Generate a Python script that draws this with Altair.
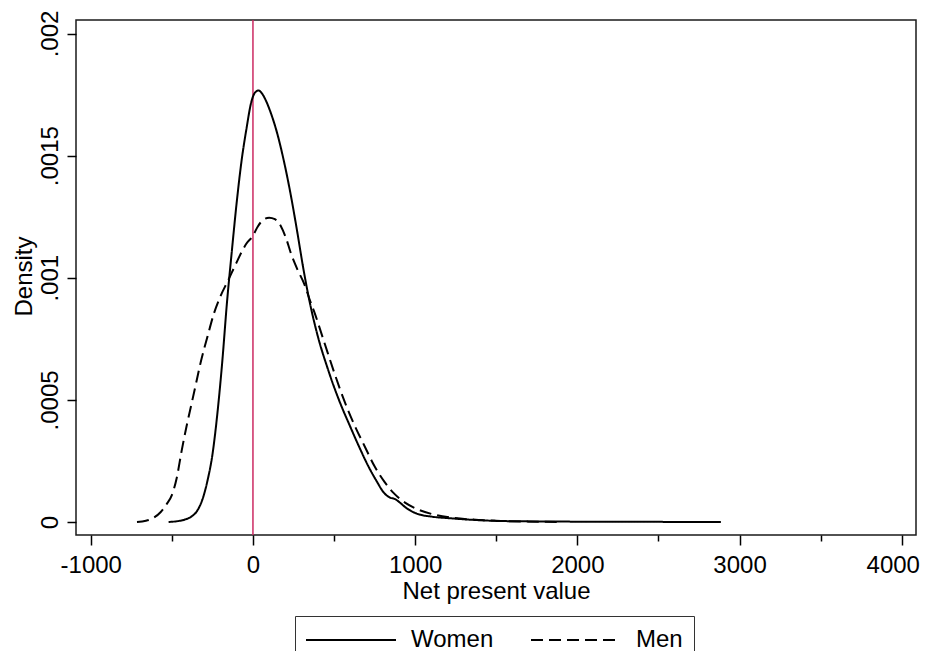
import altair as alt
import pandas as pd

# ---- data (kernel density curves) ----
women_x = [-520, -470, -420, -380, -340, -310, -280, -250, -220, -190, -160, -130, -100, -70, -40, -10,
           15, 35, 55, 80, 110, 150, 190, 230, 270, 310, 350, 400, 460, 530, 600, 660, 710, 760, 810,
           845, 875, 905, 940, 980, 1020, 1100, 1220, 1350, 1530, 1800, 2200, 2885]
women_y = [0.0, 0.000003, 0.000010, 0.000022, 0.000050, 0.000095, 0.000170, 0.000275, 0.000440, 0.000650,
           0.000900, 0.001110, 0.001310, 0.001480, 0.001610, 0.001720, 0.001760, 0.001767, 0.001755,
           0.001725, 0.001675, 0.001590, 0.001480, 0.001350, 0.001200, 0.001040, 0.000900, 0.000760,
           0.000630, 0.000500, 0.000390, 0.000300, 0.000230, 0.000170, 0.000118, 0.000100, 0.000094,
           0.000080, 0.000060, 0.000043, 0.000032, 0.000022, 0.000015, 0.000009, 0.000004, 0.000002,
           0.000001, 0.0]

men_x = [-715, -660, -610, -570, -530, -500, -470, -440, -410, -380, -350, -320, -280, -240, -200, -156,
         -110, -74, -40, -2, 30, 60, 100, 135, 173, 205, 234, 270, 316, 350, 378, 440, 501, 560, 625,
         690, 748, 810, 871, 940, 1015, 1100, 1221, 1350, 1529, 1700, 1900]
men_y = [0.0, 0.000005, 0.000018, 0.000040, 0.000075, 0.000110, 0.000180, 0.000290, 0.000390, 0.000480,
         0.000570, 0.000660, 0.000760, 0.000855, 0.000925, 0.000985, 0.001050, 0.001100, 0.001140,
         0.001170, 0.001210, 0.001235, 0.001246, 0.001240, 0.001210, 0.001160, 0.001100, 0.001040,
         0.000975, 0.000910, 0.000860, 0.000735, 0.000612, 0.000502, 0.000398, 0.000308, 0.000230,
         0.000165, 0.000116, 0.000078, 0.000052, 0.000033, 0.000018, 0.000010, 0.000004, 0.000002, 0.0]

series_names = ["Women", "Men"]
x_major_ticks = [-1000, 0, 1000, 2000, 3000, 4000]
x_minor_ticks = [-500, 500, 1500, 2500, 3500]
y_ticks = [0, 0.0005, 0.001, 0.0015, 0.002]
ref_line_x = [0]

df = pd.concat([
    pd.DataFrame({"npv": women_x, "density": women_y, "series": "Women", "order": range(len(women_x))}),
    pd.DataFrame({"npv": men_x, "density": men_y, "series": "Men", "order": range(len(men_x))}),
])

FONT = "Liberation Sans"
xscale = alt.Scale(domain=[-1091, 4088], nice=False, zero=False)
yscale = alt.Scale(domain=[-0.0000533, 0.0020553], nice=False, zero=False)

last_tick = x_major_ticks[-1]
major_axis = alt.Axis(
    values=x_major_ticks, labelExpr="'' + datum.value", orient="bottom", domain=False, grid=False,
    tickSize=10, tickWidth=1.5, tickColor="black", labelFontSize=24, labelPadding=8,
    labelColor="black", labelFont=FONT, labelFlush=False,
    labelOffset={"condition": {"test": f"datum.value === {last_tick}", "value": -9}, "value": 0},
    title="Net present value", titleFontSize=24, titleFont=FONT, titleFontWeight="normal",
    titleColor="black", titleX=420, titleY=63, titleBaseline="alphabetic", titleAlign="center",
)
minor_axis = alt.Axis(
    values=x_minor_ticks, orient="bottom", domain=False, grid=False, labels=False,
    tickSize=6, tickWidth=1.5, tickColor="black", title=None,
)
y_axis = alt.Axis(
    values=y_ticks, orient="left", domain=False, grid=False,
    labelExpr="datum.value === 0 ? '0' : replace(format(datum.value, '~f'), '0.', '.')",
    tickSize=9, tickWidth=1.5, tickColor="black", labelFontSize=24, labelFont=FONT,
    labelColor="black", labelAngle=270, labelAlign="center", labelBaseline="alphabetic",
    labelPadding=10, labelFlush=False,
    title="Density", titleFontSize=24, titleFont=FONT, titleFontWeight="normal",
    titleColor="black", titleAngle=270, titleX=-45, titleY=256, titleAlign="center",
    titleBaseline="alphabetic",
)

lines = alt.Chart(df).mark_line(color="black", strokeWidth=2, interpolate="monotone").encode(
    x=alt.X("npv:Q", scale=xscale, axis=major_axis),
    y=alt.Y("density:Q", scale=yscale, axis=y_axis),
    order="order:Q",
    strokeDash=alt.StrokeDash(
        "series:N",
        scale=alt.Scale(domain=series_names, range=[[1, 0], [12, 6]]),
        legend=alt.Legend(
            title=None, orient="none", legendX=219, legendY=596, direction="horizontal",
            columns=2, symbolType="M-3.75,0H3.75", symbolSize=576, symbolStrokeWidth=2,
            symbolStrokeColor="black", symbolFillColor="transparent", symbolOffset=32,
            labelFontSize=24, labelFont=FONT, labelColor="black",
            labelOffset=47, columnPadding=33, padding=11, strokeColor="#333",
        ),
    ),
)

rule = alt.Chart(pd.DataFrame({"x": ref_line_x})).mark_rule(color="#cc2a62", strokeWidth=1.5).encode(
    x=alt.X("x:Q", scale=xscale, axis=minor_axis),
)

chart = alt.layer(rule, lines).resolve_axis(x="independent").properties(
    width=840, height=515, autosize="none",
    padding={"left": 68, "top": 12, "right": 4, "bottom": 116},
).configure(
    font=FONT, background="white",
    view=alt.ViewConfig(stroke="#1a1a1a", strokeWidth=1.5),
)

chart.save("out.html", embed_options={"renderer": "svg", "actions": False})
